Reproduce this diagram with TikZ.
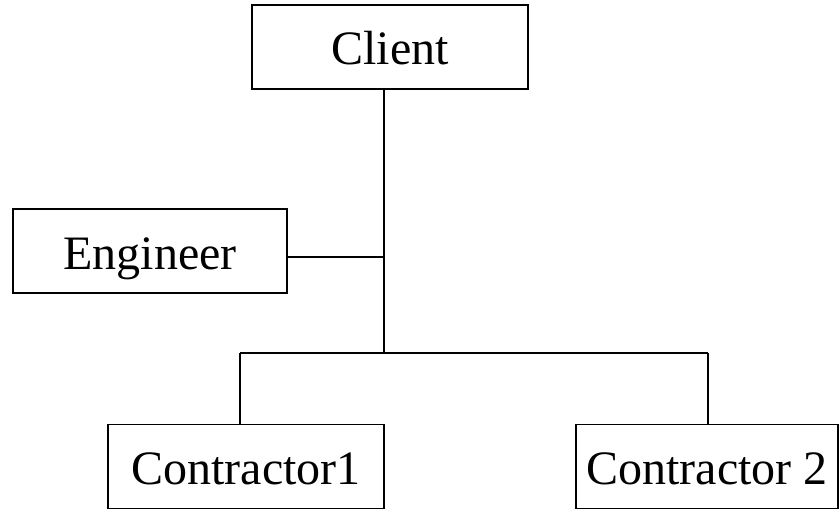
\documentclass[tikz,border=0pt]{standalone}
\usepackage{fontspec}
\setmainfont{Liberation Serif}
\usepackage{tikz}
\usetikzlibrary{positioning}
\tikzset{box/.style={draw=black,line width=1.3pt,inner sep=0pt,minimum height=63pt,text height=30pt,text depth=3pt,font=\fontsize{36}{43}\selectfont}}

\begin{document}
\begin{tikzpicture}[x=0.75pt,y=-0.75pt,line width=1.3pt]
    \useasboundingbox (0,0) rectangle (840,510);
    \node [box,minimum width=207pt] (client) at (390,47) {Client};
    \node [box,minimum width=205pt] (engineer) at (150,251) {Engineer};
    \node [box,minimum width=207pt] (contr1) at (246,466.5) {Contractor1};
    \node [box,minimum width=197pt] (contr2) at (707,466.5) {Contractor 2};

    \coordinate (hub) at (384,353);
    \coordinate (ejoin) at (384,257);
    \coordinate (lbend) at (240,353);
    \coordinate (rbend) at (708,353);

    \draw (client.south -| hub) -- (hub);
    \draw (ejoin -| engineer.east) -- (ejoin);
    \draw (lbend) -- (rbend);
    \draw (lbend) -- (lbend |- contr1.north);
    \draw (rbend) -- (rbend |- contr2.north);
\end{tikzpicture}
\end{document}
